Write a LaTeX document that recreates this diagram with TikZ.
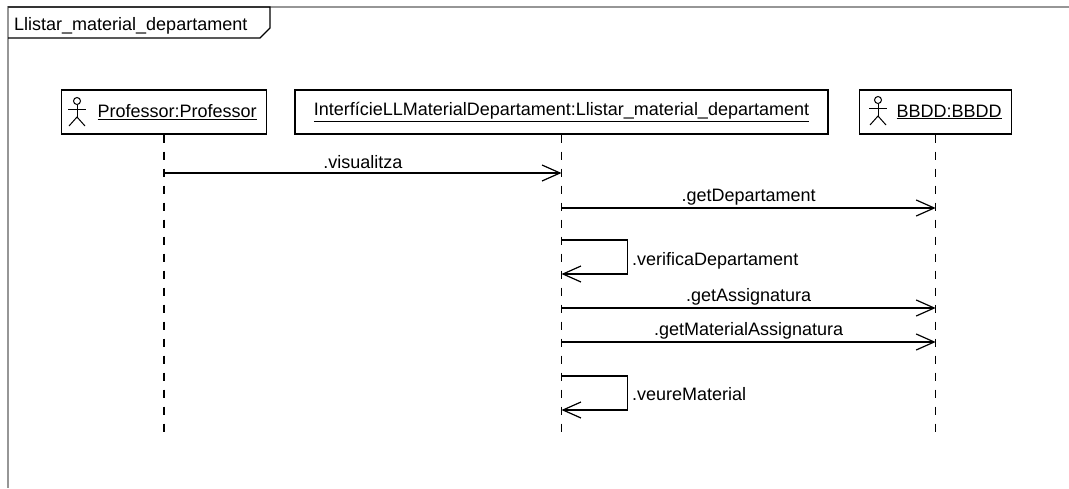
\documentclass[tikz,border=0pt]{standalone}
\usepackage{fontspec}
\setmainfont{Liberation Sans}
\usetikzlibrary{arrows.meta}
\usetikzlibrary{positioning}
\definecolor{framegray}{RGB}{150,150,150}
\tikzset{obj/.style = {draw, line width=1.3pt, minimum height=44pt, inner ysep=0pt,
                       font=\fontsize{18}{20}\selectfont}}
\tikzset{lbl/.style = {inner sep=0pt, font=\fontsize{18}{20}\selectfont}}
\tikzset{msg/.style = {line width=1.2pt, line join=miter,
                       -{Straight Barb[length=18pt, width=16pt, line width=1.2pt]}}}
\tikzset{life/.style = {line width=1.4pt, dash pattern=on 8pt off 9pt}}
\tikzset{actor/.pic = {
    \draw [line width=1pt] (0,0) circle (3.5pt);
    \draw [line width=1pt] (0,3.5) -- (0,16) (-9,8) -- (9,8);
    \draw [line width=1pt] (-8,25) -- (0,16) -- (8,25);
  }}

\begin{document}
\begin{tikzpicture}[x=1pt, y=-1pt]
    \useasboundingbox (0,0) rectangle (1069,488);

    % frame and its tab
    \draw [framegray, line width=1.5pt] (1069,7) -- (8,7) -- (8,488);
    \draw [line width=1.2pt] (8,7) -- (270,7) -- (270,28) -- (260,38) -- (8,38);
    \node [lbl, anchor=base west] (title) at (14,30) {Llistar\_material\_departament};

    % objects
    \node [obj, anchor=west, inner xsep=10pt] (prof) at (61,112)
          {\hspace*{26pt}\underline{Professor:Professor}};
    \node [obj, minimum width=533pt, inner xsep=0pt] (intf) at (561.5,112)
          {\underline{InterfícieLLMaterialDepartament:Llistar\_material\_departament}};
    \node [obj, anchor=west, inner xsep=10pt] (bbdd) at (859,112)
          {\hspace*{27pt}\underline{BBDD:BBDD}};
    \pic at (77,101) {actor};
    \pic at (878,100) {actor};

    % lifelines
    \coordinate (profend) at (prof.south |- 0,436);
    \coordinate (intfend) at (intf.south |- 0,436);
    \coordinate (bbddend) at (bbdd.south |- 0,436);
    \draw [life] (prof.south) -- (profend);
    \draw [life] (intf.south) -- (intfend);
    \draw [life] (bbdd.south) -- (bbddend);

    % messages
    \draw [msg] (prof.south |- 0,173) -- (intf.south |- 0,173)
          node [lbl, midway, anchor=base, yshift=5pt] (visu) {.visualitza};
    \draw [msg] (intf.south |- 0,208) -- (bbdd.south |- 0,208)
          node [lbl, midway, anchor=base, yshift=7pt] (getdep) {.getDepartament};
    \draw [msg] (intf.south |- 0,240) -- ++(66,0) -- ++(0,34) -- (intf.south |- 0,274);
    \node [lbl, anchor=base west] (verif) at (632,265) {.verificaDepartament};
    \draw [msg] (intf.south |- 0,308) -- (bbdd.south |- 0,308)
          node [lbl, midway, anchor=base, yshift=7pt] (getass) {.getAssignatura};
    \draw [msg] (intf.south |- 0,342) -- (bbdd.south |- 0,342)
          node [lbl, midway, anchor=base, yshift=7pt] (getmat) {.getMaterialAssignatura};
    \draw [msg] (intf.south |- 0,376) -- ++(66,0) -- ++(0,34) -- (intf.south |- 0,410);
    \node [lbl, anchor=base west] (veure) at (632,400) {.veureMaterial};
  \end{tikzpicture}
\end{document}
